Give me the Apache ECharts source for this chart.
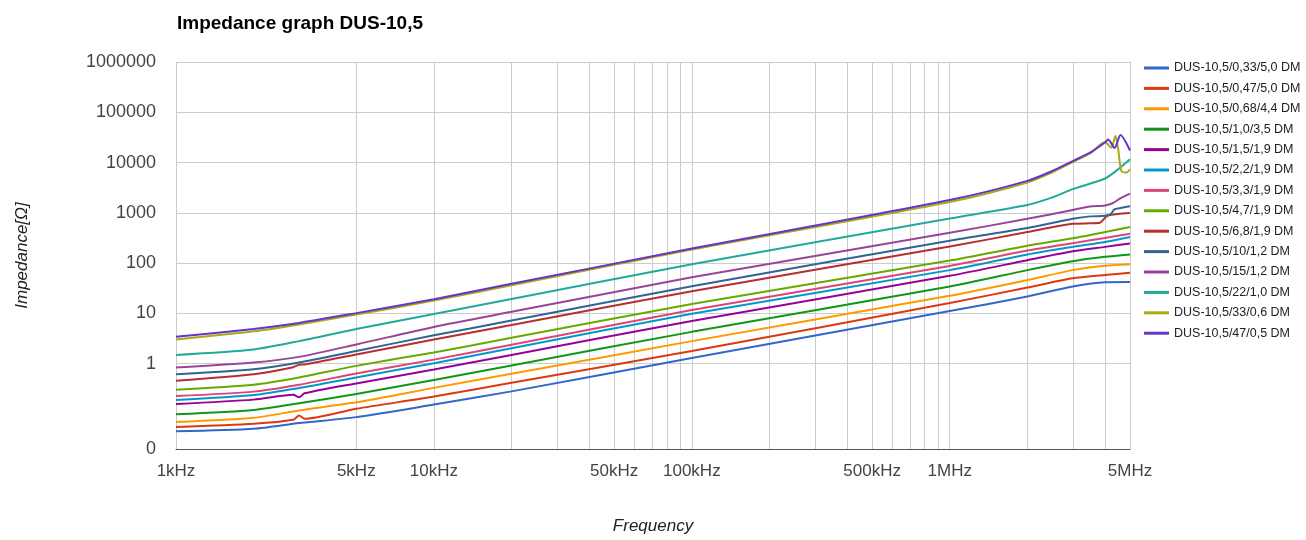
<!DOCTYPE html>
<html>
<head>
<meta charset="utf-8">
<title>Impedance graph DUS-10,5</title>
<script src="https://cdn.jsdelivr.net/npm/echarts@6/dist/echarts.min.js"></script>
<style>
  html, body { margin: 0; padding: 0; background: #fff; }
  #main { width: 1306px; height: 540px; }
</style>
</head>
<body>
<div id="main"></div>
<script>
// frequencies [Hz]
var fBase = [1e3, 2e3, 3e3, 5e3, 1e4, 2e4, 1e5, 1e6, 2e6, 3e6, 4e6, 5e6];
var fBump = [1e3, 2e3, 2850, 3e3, 3150, 5e3, 1e4, 2e4, 1e5, 1e6, 2e6, 3e6, 4e6, 5e6];
var f6_8 = [1e3, 2e3, 2850, 3e3, 3150, 5e3, 1e4, 2e4, 1e5, 1e6, 2e6, 3e6, 3.5e6, 3.82e6, 4.1e6, 5e6];
var f10 = [1e3, 2e3, 3e3, 5e3, 1e4, 2e4, 1e5, 1e6, 2e6, 3e6, 3.5e6, 4e6, 4.2e6, 4.35e6, 4.6e6, 5e6];
var f15 = [1e3, 2e3, 3e3, 5e3, 1e4, 2e4, 1e5, 1e6, 2e6, 3e6, 3.5e6, 4e6, 4.3e6, 4.6e6, 5e6];
var f22 = [1e3, 2e3, 3e3, 5e3, 1e4, 2e4, 1e5, 1e6, 2e6, 2.5e6, 3e6, 4e6, 4.5e6, 5e6];
var f33 = [1e3, 2e3, 3e3, 5e3, 1e4, 2e4, 1e5, 1e6, 2e6, 2.5e6, 3e6, 3.5e6, 4e6, 4.23e6, 4.39e6, 4.5e6, 4.63e6, 4.84e6, 5e6];
var f47 = [1e3, 2e3, 3e3, 5e3, 1e4, 2e4, 1e5, 1e6, 2e6, 2.5e6, 3e6, 3.5e6, 4e6, 4.11e6, 4.36e6, 4.59e6, 5e6];

// impedance [Ohm]
var z0_33 = [0.045, 0.0506, 0.0656, 0.0861, 0.153, 0.280, 1.29, 11.1, 21.6, 34.1, 41.4, 41.8];
var z0_47 = [0.0547, 0.0635, 0.0762, 0.0929, 0.0797, 0.126, 0.221, 0.414, 1.78, 16.0, 32.6, 49.7, 57.7, 64.4];
var z0_68 = [0.0686, 0.0834, 0.117, 0.170, 0.329, 0.627, 2.80, 22.4, 46.0, 72.4, 88.5, 95.1];
var z1_0 = [0.0986, 0.120, 0.163, 0.248, 0.473, 0.918, 4.28, 34.1, 72.4, 109, 133, 148];
var z1_5 = [0.157, 0.192, 0.239, 0.213, 0.256, 0.403, 0.762, 1.49, 7.05, 55.7, 114, 172, 210, 244];
var z2_2 = [0.189, 0.237, 0.326, 0.530, 1.02, 2.02, 9.77, 72.4, 148, 210, 263, 330];
var z3_3 = [0.226, 0.277, 0.380, 0.635, 1.20, 2.37, 11.6, 87.7, 177, 249, 316, 384];
var z4_7 = [0.303, 0.380, 0.530, 0.901, 1.67, 3.26, 15.3, 112, 222, 313, 414, 520];
var z6_8 = [0.456, 0.615, 0.85, 0.95, 0.96, 1.52, 3.01, 5.88, 27.5, 213, 414, 604, 618, 632, 881, 995];
var z10 = [0.615, 0.772, 1.05, 1.78, 3.65, 7.18, 34.5, 279, 497, 758, 849, 869, 930, 1167, 1250, 1350];
var z15 = [0.834, 1.05, 1.36, 2.40, 5.37, 10.7, 52.0, 401, 758, 1140, 1337, 1400, 1567, 1968, 2415];
var z22 = [1.49, 1.91, 2.80, 4.90, 9.69, 19.2, 94.7, 769, 1432, 2030, 2960, 4810, 7340, 11560];
var z33 = [3.01, 4.38, 6.01, 9.47, 17.9, 36.1, 185, 1641, 4015, 6410, 10230, 15200, 25600, 19700, 33600, 18200, 6790, 6310, 7340];
var z47 = [3.41, 4.90, 6.44, 10.1, 19.1, 38.7, 194, 1796, 4316, 6800, 10700, 15700, 25000, 28700, 19500, 35200, 17400];

var names = [
  'DUS-10,5/0,33/5,0 DM', 'DUS-10,5/0,47/5,0 DM', 'DUS-10,5/0,68/4,4 DM',
  'DUS-10,5/1,0/3,5 DM', 'DUS-10,5/1,5/1,9 DM', 'DUS-10,5/2,2/1,9 DM',
  'DUS-10,5/3,3/1,9 DM', 'DUS-10,5/4,7/1,9 DM', 'DUS-10,5/6,8/1,9 DM',
  'DUS-10,5/10/1,2 DM', 'DUS-10,5/15/1,2 DM', 'DUS-10,5/22/1,0 DM',
  'DUS-10,5/33/0,6 DM', 'DUS-10,5/47/0,5 DM'
];
var freqs = [fBase, fBump, fBase, fBase, fBump, fBase, fBase, fBase, f6_8, f10, f15, f22, f33, f47];
var values = [z0_33, z0_47, z0_68, z1_0, z1_5, z2_2, z3_3, z4_7, z6_8, z10, z15, z22, z33, z47];
var colors = ['#3366cc', '#dc3912', '#ff9900', '#109618', '#990099', '#0099c6', '#dd4477',
  '#66aa00', '#b82e2e', '#316395', '#994499', '#22aa99', '#aaaa11', '#6633cc'];

var xLabels = [1e3, 5e3, 1e4, 5e4, 1e5, 5e5, 1e6, 5e6];
var xGrid = [1e3, 5e3, 1e4, 2e4, 3e4, 4e4, 5e4, 6e4, 7e4, 8e4, 9e4, 1e5, 2e5, 3e5, 4e5, 5e5,
  6e5, 7e5, 8e5, 9e5, 1e6, 2e6, 3e6, 4e6, 5e6];
var yLabels = [0.02, 1, 10, 100, 1000, 10000, 100000, 1000000];
var yGrid = [1, 10, 100, 1000, 10000, 100000, 1000000];

var font = 'Arial, "Liberation Sans", sans-serif';

var series = [];
for (var i = 0; i < names.length; i++) {
  var d = [];
  for (var j = 0; j < freqs[i].length; j++) {
    d.push([freqs[i][j], values[i][j]]);
  }
  series.push({
    name: names[i],
    type: 'line',
    data: d,
    showSymbol: false,
    smooth: 0.25,
    lineStyle: { width: 2, color: colors[i] },
    itemStyle: { color: colors[i] }
  });
}

var myChart = echarts.init(document.getElementById('main'));
myChart.setOption({
  animation: false,
  color: colors,
  textStyle: { fontFamily: font },
  title: {
    text: 'Impedance graph DUS-10,5',
    left: 172,
    top: 9,
    textStyle: { fontFamily: font, fontSize: 19, fontWeight: 'bold', color: '#000' }
  },
  legend: {
    orient: 'vertical',
    left: 1139,
    top: 56,
    icon: 'rect',
    itemWidth: 25,
    itemHeight: 3,
    itemGap: 6.4,
    textStyle: { fontFamily: font, fontSize: 12.5, color: '#222', lineHeight: 14 },
    data: names
  },
  grid: { left: 176, top: 62, width: 954, height: 390, containLabel: false },
  xAxis: {
    type: 'log',
    logBase: 10,
    min: 1000,
    max: 5000000,
    name: 'Frequency',
    nameLocation: 'middle',
    nameGap: 69,
    nameTextStyle: { fontFamily: font, fontSize: 17, fontStyle: 'italic', color: '#222' },
    axisLine: { show: true, onZero: false, lineStyle: { color: '#555', width: 1 } },
    axisTick: { show: false, customValues: xGrid },
    axisLabel: {
      customValues: xLabels,
      margin: 14,
      fontFamily: font,
      fontSize: 17,
      color: '#444',
      formatter: function (v) {
        if (v >= 1e6) return Math.round(v / 1e6) + 'MHz';
        return Math.round(v / 1e3) + 'kHz';
      }
    },
    splitLine: { show: true, lineStyle: { color: '#cccccc', width: 1 } }
  },
  yAxis: {
    type: 'log',
    logBase: 10,
    min: 0.02,
    max: 1000000,
    name: 'Impedance[Ω]',
    nameLocation: 'middle',
    nameGap: 145,
    nameTextStyle: { fontFamily: font, fontSize: 17, fontStyle: 'italic', color: '#222' },
    axisLine: { show: false },
    axisTick: { show: false, customValues: yGrid },
    axisLabel: {
      customValues: yLabels,
      margin: 20,
      fontFamily: font,
      fontSize: 18,
      color: '#444',
      formatter: function (v) {
        return v < 1 ? '0' : String(Math.round(v));
      }
    },
    splitLine: { show: true, lineStyle: { color: '#cccccc', width: 1 } }
  },
  series: series
});
</script>
</body>
</html>
